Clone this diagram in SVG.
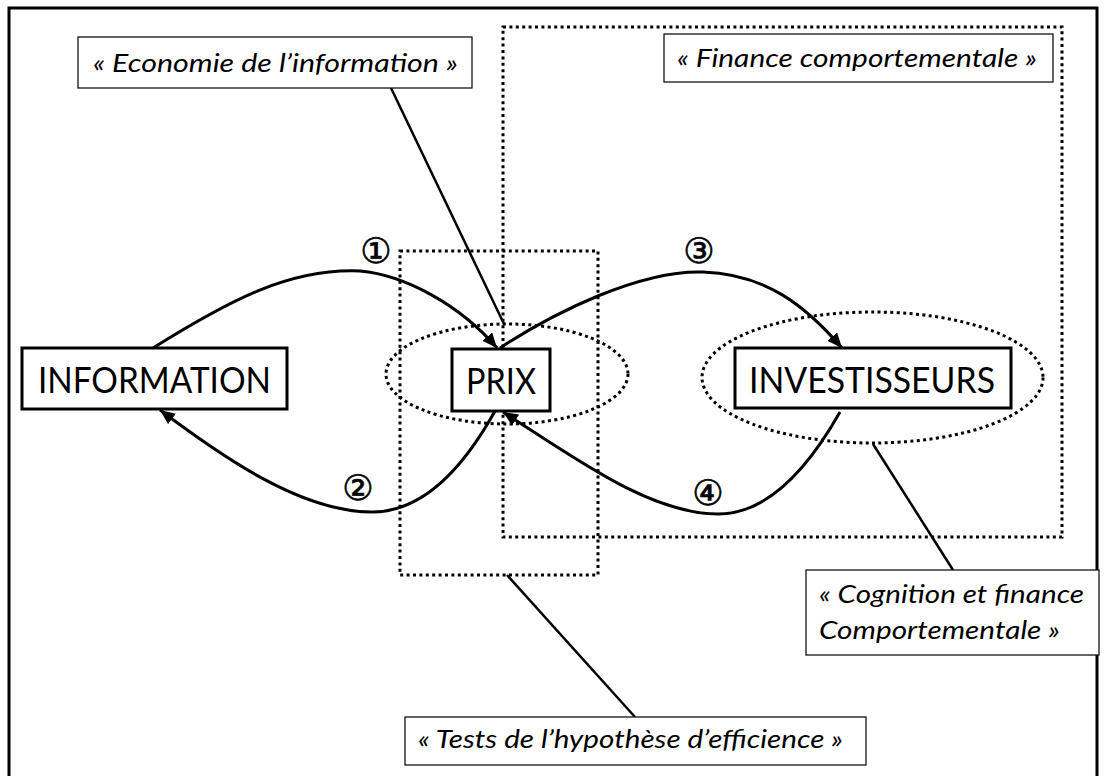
<svg xmlns="http://www.w3.org/2000/svg" width="1104" height="776" viewBox="0 0 1104 776">
<style>
.frame{fill:#fff;stroke:#000;stroke-width:3}
.node{fill:#fff;stroke:#000;stroke-width:3}
.nt{font-family:Lato,"Liberation Sans",sans-serif;font-size:36px;fill:#000;text-anchor:middle}
.lab{fill:#fff;stroke:#000;stroke-width:1.2}
.lt{font-family:Lato,"Liberation Sans",sans-serif;font-style:italic;font-size:25px;fill:#000}
.dot{fill:none;stroke:#000;stroke-width:3;stroke-dasharray:3 3.4}
.lead{fill:none;stroke:#000;stroke-width:2.5}
.arc{fill:none;stroke:#000;stroke-width:3;marker-end:url(#ah)}
.num{font-family:"DejaVu Sans","Noto Sans CJK JP",sans-serif;font-size:35px;fill:#000;stroke:#000;stroke-width:0.6;text-anchor:middle;dominant-baseline:central}
</style>
<defs>
<marker id="ah" markerUnits="userSpaceOnUse" markerWidth="16" markerHeight="14" refX="15" refY="6.5" orient="auto">
<path d="M0,0 L15,6.5 L0,13 z" fill="#000"/>
</marker>
</defs>
<rect class="frame" x="9" y="8" width="1088" height="780"/>
<g id="zones">
<rect id="zone-finance" class="dot" x="503" y="27" width="559" height="510"/>
<rect id="zone-tests" class="dot" x="400" y="251" width="198" height="324"/>
<ellipse id="zone-prix" class="dot" cx="507" cy="374" rx="121" ry="50"/>
<ellipse id="zone-invest" class="dot" cx="872.5" cy="377.5" rx="170.5" ry="65.5"/>
</g>
<g id="connectors">
<line class="lead" x1="391" y1="88" x2="504" y2="324"/>
<line class="lead" x1="873" y1="444" x2="953" y2="570"/>
<line class="lead" x1="507" y1="575" x2="635" y2="717"/>
<path class="arc" d="M153,348 C230,300 290,268 360,271 C405,275 460,305 497,348"/>
<path class="arc" d="M495,411 C465,465 425,512 372,512 C300,512 220,455 160,410"/>
<path class="arc" d="M500,348 C555,312 640,270 703,272 C765,274 805,305 842,348"/>
<path class="arc" d="M840,412 C810,465 770,514 718,514 C650,514 575,458 503,412"/>
</g>
<g id="numbers">
<text class="num" x="376" y="251">①</text>
<text class="num" x="358" y="488">②</text>
<text class="num" x="699" y="251">③</text>
<text class="num" x="708" y="493">④</text>
</g>
<g id="node-information">
<rect class="node" x="22" y="348" width="265" height="61"/>
<text class="nt" x="154.5" y="393" textLength="233" lengthAdjust="spacingAndGlyphs">INFORMATION</text>
</g>
<g id="node-prix">
<rect class="node" x="452" y="349" width="98" height="62"/>
<text class="nt" x="501" y="394" textLength="70" lengthAdjust="spacingAndGlyphs">PRIX</text>
</g>
<g id="node-investisseurs">
<rect class="node" x="735" y="348" width="276" height="60"/>
<text class="nt" x="872" y="393" textLength="246" lengthAdjust="spacingAndGlyphs">INVESTISSEURS</text>
</g>
<g id="label-economie">
<rect class="lab" x="78" y="37" width="394" height="51"/>
<text class="lt" x="93" y="72" textLength="365" lengthAdjust="spacingAndGlyphs">« Economie de l’information »</text>
</g>
<g id="label-finance">
<rect class="lab" x="664" y="34" width="389" height="48"/>
<text class="lt" x="677" y="67" textLength="360" lengthAdjust="spacingAndGlyphs">« Finance comportementale »</text>
</g>
<g id="label-cognition">
<rect class="lab" x="806" y="570" width="293" height="85"/>
<text class="lt" x="819" y="603" textLength="265" lengthAdjust="spacingAndGlyphs">« Cognition et finance</text>
<text class="lt" x="819" y="639" textLength="241" lengthAdjust="spacingAndGlyphs">Comportementale »</text>
</g>
<g id="label-tests">
<rect class="lab" x="405" y="717" width="461" height="48"/>
<text class="lt" x="418" y="748" textLength="425" lengthAdjust="spacingAndGlyphs">« Tests de l’hypothèse d’efficience »</text>
</g>
</svg>
